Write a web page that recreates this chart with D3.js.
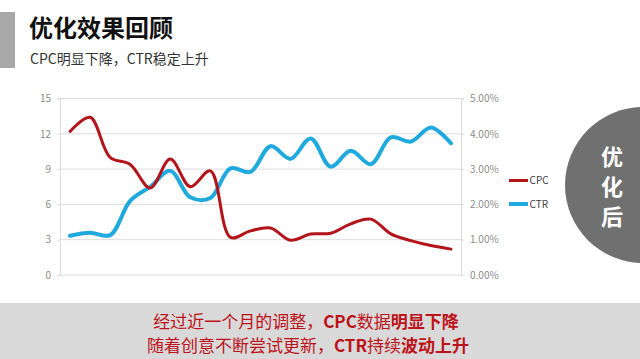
<!DOCTYPE html>
<html><head><meta charset="utf-8">
<script src="https://cdn.jsdelivr.net/npm/d3@7"></script>
<style>
html,body{margin:0;padding:0;background:#fff;}
svg{display:block;font-family:"Noto Sans CJK SC","Noto Sans",sans-serif;}
</style></head>
<body><svg id="c" width="640" height="359"></svg>
<script>
const periods = d3.range(1, 21).map(d => "D" + d);
const cpcValues = [12.2, 13.4, 10.0, 9.4, 7.4, 9.85, 7.5, 8.85, 3.2, 3.75, 4.0, 2.95, 3.48, 3.55, 4.35, 4.75, 3.5, 2.92, 2.5, 2.2];
const ctrValues = [1.11, 1.2, 1.13, 2.1, 2.5, 2.95, 2.2, 2.18, 3.02, 2.92, 3.65, 3.29, 3.87, 3.07, 3.52, 3.14, 3.9, 3.78, 4.18, 3.73];
const leftTicks = [0, 3, 6, 9, 12, 15];
const rightTicks = [0, 1, 2, 3, 4, 5];
const seriesNames = ["CPC", "CTR"];
const title = "优化效果回顾";
const subtitle = "CPC明显下降，CTR稳定上升";
const badge = ["优", "化", "后"];
const noteLine1 = [["经过近一个月的调整，", 400], ["CPC", 700], ["数据", 400], ["明显下降", 700]];
const noteLine2 = [["随着创意不断尝试更新，", 400], ["CTR", 700], ["持续", 400], ["波动上升", 700]];

const red = "#b3141a", blue = "#1fa9dd", grid = "#dcdcdc", tickCol = "#8c8c8c";
const svg = d3.select("#c");

// header
svg.append("rect").attr("x", 0).attr("y", 12).attr("width", 15).attr("height", 56).attr("fill", "#a8a8a8");
svg.append("text").attr("x", 29).attr("y", 37).attr("font-size", 24).attr("font-weight", 700).attr("fill", "#111").text(title);
svg.append("text").attr("x", 30).attr("y", 64).attr("font-size", 14).attr("fill", "#333").text(subtitle);

// chart
const L = 60, R = 461, T = 98.5, B = 275;
const x = d3.scaleBand().domain(periods).range([L, R]);
const yL = d3.scaleLinear().domain([0, 15]).range([B, T]);
const yR = d3.scaleLinear().domain([0, 5]).range([B, T]);
const g = svg.append("g");

g.selectAll("line.grid").data(leftTicks).join("line").attr("class", "grid")
  .attr("x1", L).attr("x2", R).attr("y1", d => yL(d)).attr("y2", d => yL(d))
  .attr("stroke", grid).attr("stroke-width", 1);

const axL = g.append("g").attr("transform", `translate(${L},0)`)
  .call(d3.axisLeft(yL).tickValues(leftTicks).tickSize(3).tickPadding(6).tickFormat(d3.format("d")));
const axR = g.append("g").attr("transform", `translate(${R},0)`)
  .call(d3.axisRight(yR).tickValues(rightTicks).tickSize(3).tickPadding(6).tickFormat(d => d.toFixed(2) + "%"));
[axL, axR].forEach(a => {
  a.select(".domain").attr("stroke", grid);
  a.selectAll(".tick line").attr("stroke", grid);
  a.selectAll("text").attr("fill", tickCol).attr("font-size", 10)
    .attr("font-family", "'Noto Sans CJK SC','Noto Sans',sans-serif");
});

const cx = d => x(d) + x.bandwidth() / 2;
const lineL = d3.line().x((d, i) => cx(periods[i])).y(d => yL(d)).curve(d3.curveCatmullRom.alpha(0.5));
const lineR = d3.line().x((d, i) => cx(periods[i])).y(d => yR(d)).curve(d3.curveCatmullRom.alpha(0.5));
g.append("path").datum(ctrValues).attr("d", lineR).attr("fill", "none").attr("stroke", blue).attr("stroke-width", 4).attr("stroke-linecap", "round");
g.append("path").datum(cpcValues).attr("d", lineL).attr("fill", "none").attr("stroke", red).attr("stroke-width", 3).attr("stroke-linecap", "round");

// legend
const lg = svg.append("g");
seriesNames.forEach((n, i) => {
  const yy = 180.5 + i * 23.5;
  lg.append("line").attr("x1", 509).attr("x2", 528).attr("y1", yy).attr("y2", yy)
    .attr("stroke", i ? blue : red).attr("stroke-width", i ? 4 : 3);
  lg.append("text").attr("x", 529.5).attr("y", yy).attr("dy", "0.35em").attr("font-size", 10).attr("fill", "#404040").text(n);
});

// badge circle
svg.append("circle").attr("cx", 643).attr("cy", 185).attr("r", 78).attr("fill", "#707070");
badge.forEach((c, i) => {
  svg.append("text").attr("x", 612).attr("y", 157 + i * 30).attr("dy", "0.36em").attr("text-anchor", "middle")
    .attr("font-size", 22).attr("font-weight", 700).attr("fill", "#fff").text(c);
});

// bottom band
svg.append("rect").attr("x", 0).attr("y", 303).attr("width", 640).attr("height", 56).attr("fill", "#d9d9d9");
[[noteLine1, 327.5, 306], [noteLine2, 352, 308]].forEach(([parts, yy, xc]) => {
  const t = svg.append("text").attr("x", xc).attr("y", yy).attr("text-anchor", "middle")
    .attr("font-size", 17).attr("fill", "#bd1219");
  parts.forEach(([s, w]) => t.append("tspan").attr("font-weight", w).text(s));
});
</script></body></html>
